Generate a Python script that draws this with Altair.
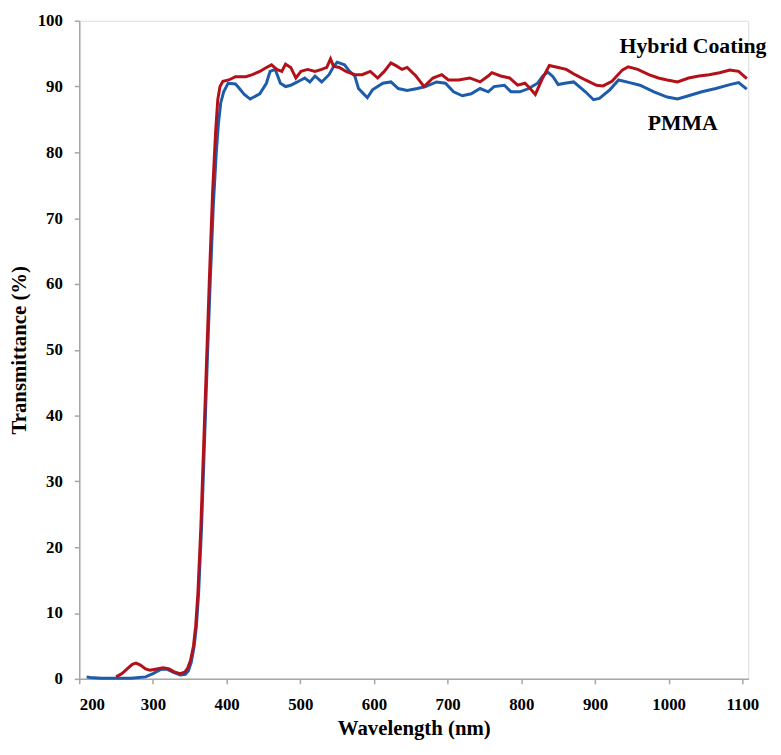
import altair as alt
import pandas as pd

# PMMA (blue)
pmma_wl = [210, 215, 230, 250, 270, 290, 300, 310, 318, 328, 337, 344, 348, 352, 356, 359, 362, 366, 370, 374,
           378, 382, 386, 389, 392, 396, 402, 412, 416, 424, 432, 445, 454, 459, 466, 473, 480, 487, 496, 506,
           513, 520, 529, 539, 545, 550, 560, 567, 574, 579, 585, 591, 598, 612, 623, 633, 645, 659, 670, 685,
           697, 708, 720, 732, 744, 755, 763, 777, 786, 798, 810, 822, 829, 836, 843, 850, 859, 871, 887, 898,
           906, 920, 932, 947, 961, 980, 998, 1012, 1027, 1045, 1064, 1083, 1095, 1106]
pmma_t = [0.3, 0.2, 0.1, 0.1, 0.1, 0.3, 0.8, 1.4, 1.5, 1.0, 0.6, 0.7, 1.2, 2.5, 5, 8, 13, 23, 36, 49,
          61, 72, 80, 84.5, 87.5, 89.2, 90.5, 90.4, 89.9, 88.8, 88.1, 88.9, 90.5, 92.3, 92.6, 90.5, 90.0, 90.2, 90.7, 91.3,
          90.7, 91.6, 90.7, 91.8, 93.0, 93.7, 93.3, 92.3, 91.6, 89.7, 89.0, 88.3, 89.5, 90.5, 90.7, 89.7, 89.4, 89.7, 90.0, 90.7,
          90.5, 89.2, 88.6, 88.9, 89.7, 89.2, 90.0, 90.2, 89.2, 89.2, 89.7, 90.5, 91.6, 92.2, 91.5, 90.3, 90.5, 90.7, 89.2, 88.0,
          88.2, 89.5, 91.0, 90.6, 90.2, 89.2, 88.4, 88.1, 88.6, 89.2, 89.7, 90.3, 90.6, 89.6]

# Hybrid Coating (red)
hyb_wl = [250, 258, 265, 272, 277, 283, 290, 296, 305, 314, 322, 330, 337, 343, 347, 351, 355, 358, 361, 365,
          369, 373, 377, 381, 385, 388, 391, 395, 403, 412, 426, 435, 445, 454, 461, 468, 475, 480, 487, 494,
          501, 510, 520, 529, 536, 541, 545, 553, 562, 574, 584, 595, 605, 614, 623, 631, 638, 645, 657, 668,
          680, 692, 701, 715, 730, 744, 755, 760, 772, 784, 795, 805, 812, 819, 829, 838, 850, 861, 873, 887,
          902, 911, 923, 937, 945, 958, 973, 986, 998, 1012, 1027, 1041, 1055, 1069, 1083, 1095, 1106]
hyb_t = [0.3, 0.8, 1.5, 2.2, 2.4, 2.1, 1.5, 1.3, 1.5, 1.7, 1.5, 1.0, 0.8, 1.0, 1.6, 2.8, 5, 8, 13, 23,
         36, 49, 62, 74, 83, 88, 90.0, 90.8, 91.0, 91.5, 91.5, 91.8, 92.3, 92.9, 93.3, 92.6, 92.3, 93.4, 92.9, 91.3,
         92.3, 92.6, 92.3, 92.6, 92.9, 94.2, 93.1, 92.9, 92.3, 91.8, 91.8, 92.3, 91.3, 92.3, 93.6, 93.1, 92.6, 92.9, 91.6, 90.0,
         91.3, 91.8, 91.0, 91.0, 91.3, 90.7, 91.6, 92.1, 91.6, 91.3, 90.2, 90.5, 89.7, 88.8, 91.3, 93.2, 92.9, 92.6, 91.8, 91.0,
         90.2, 90.1, 90.8, 92.5, 93.0, 92.6, 91.8, 91.3, 91.0, 90.7, 91.3, 91.6, 91.8, 92.1, 92.5, 92.3, 91.2]

x_ticks = [200, 300, 400, 500, 600, 700, 800, 900, 1000, 1100]
y_ticks = [0, 10, 20, 30, 40, 50, 60, 70, 80, 90, 100]

FONT = "Liberation Serif"

pmma_df = pd.DataFrame({"wl": pmma_wl, "t": pmma_t})
hyb_df = pd.DataFrame({"wl": hyb_wl, "t": hyb_t})

xscale = alt.Scale(domain=[200, 1108], nice=False, zero=False)
yscale = alt.Scale(domain=[0, 100], nice=False)

xaxis = alt.Axis(values=x_ticks, format="d", title="Wavelength (nm)", grid=False, labelFont=FONT, labelFontSize=17,
                 labelFontWeight="bold", labelColor="black", titleFont=FONT, titleFontSize=21,
                 titleFontWeight="bold", titleColor="black", domainColor="#a6a6a6", domainWidth=1.5,
                 tickColor="#a6a6a6", tickWidth=1.5, tickSize=5, labelPadding=13, titlePadding=5)
yaxis = alt.Axis(values=y_ticks, format="d", title="Transmittance (%)", grid=False, labelFont=FONT, labelFontSize=17,
                 labelFontWeight="bold", labelColor="black", titleFont=FONT, titleFontSize=21,
                 titleFontWeight="bold", titleColor="black", domainColor="#a6a6a6", domainWidth=1.5,
                 tickColor="#a6a6a6", tickWidth=1.5, tickSize=5, labelPadding=12, titlePadding=8)

blue = alt.Chart(pmma_df).mark_line(color="#1d5cab", strokeWidth=3, clip=False).encode(
    x=alt.X("wl:Q", scale=xscale, axis=xaxis),
    y=alt.Y("t:Q", scale=yscale, axis=yaxis),
)
red = alt.Chart(hyb_df).mark_line(color="#b3111a", strokeWidth=3, clip=False).encode(
    x=alt.X("wl:Q", scale=xscale),
    y=alt.Y("t:Q", scale=yscale),
)

label_h = alt.Chart(pd.DataFrame({"a": [0]})).mark_text(
    text="Hybrid Coating", font=FONT, fontSize=22, fontWeight="bold", color="black", align="center", baseline="middle"
).encode(x=alt.datum(1033), y=alt.datum(96.1))
label_p = alt.Chart(pd.DataFrame({"a": [0]})).mark_text(
    text="PMMA", font=FONT, fontSize=22, fontWeight="bold", color="black", align="center", baseline="middle"
).encode(x=alt.datum(1019), y=alt.datum(84.4))

chart = alt.layer(blue, red, label_h, label_p).properties(
    width=676, height=665,
    autosize=alt.AutoSizeParams(type="none"),
    padding={"left": 72, "top": 9, "right": 25, "bottom": 65},
).configure_view(stroke=None).configure(background="white")

chart.save("out.html", embed_options={"renderer": "svg", "actions": False})
